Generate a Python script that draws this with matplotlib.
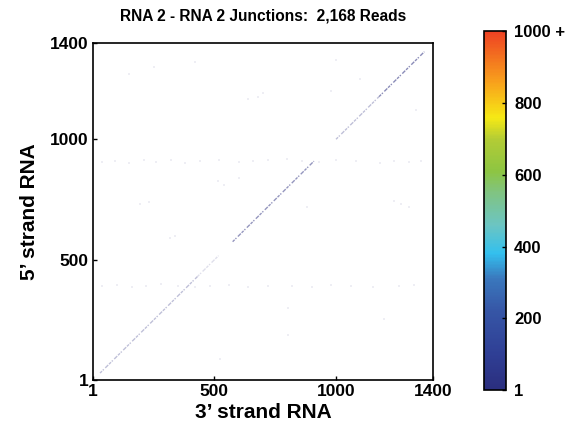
import numpy as np
import matplotlib
matplotlib.use('Agg')
import matplotlib.pyplot as plt
from matplotlib.colors import LinearSegmentedColormap, Normalize
import matplotlib.cm as cm

plt.rcParams['font.family'] = ['Liberation Sans', 'DejaVu Sans']
plt.rcParams['font.weight'] = 'bold'

# junction read map, RNA 2 vs RNA 2 (positions in nt)
# diagonal runs: start, end, relative strength
diag_start = [30, 430, 575, 1000, 1177]
diag_end = [430, 517, 909, 1177, 1363]
diag_alpha = [0.30, 0.15, 0.50, 0.30, 0.55]

# faint scattered junctions (3' position, 5' position)
sc_x = [40, 90, 150, 210, 260, 320, 380, 440, 520, 600, 660, 720, 800, 860,
        930, 1000, 1080, 1180, 1240, 1300, 1350,
        40, 100, 160, 220, 280, 350, 420, 480, 560, 640, 720, 820, 900, 980,
        1060, 1150, 1260, 1320,
        678, 700, 640, 513, 540, 600, 195, 230, 319, 340, 1268, 1300, 1240,
        802, 1198, 802, 525, 150, 250, 1100, 1000, 980, 420, 1330, 880]
sc_y = [905, 910, 900, 915, 905, 912, 900, 908, 915, 905, 910, 915, 920, 910,
        905, 912, 908, 900, 910, 905, 908,
        390, 395, 388, 392, 398, 390, 385, 392, 395, 388, 390, 392, 385, 395,
        390, 388, 392, 395,
        1175, 1190, 1165, 828, 810, 840, 732, 740, 590, 600, 732, 720, 745,
        298, 256, 189, 89, 1270, 1300, 1250, 1330, 1200, 1320, 1120, 720]

cb_ticks = [1, 200, 400, 600, 800, 1000]
cb_labels = ['1', '200', '400', '600', '800', '1000 +']

cmap = LinearSegmentedColormap.from_list('reads', [
    (0.00, '#2b2e7e'), (0.10, '#2f3f95'), (0.22, '#3656a6'), (0.31, '#3a78bd'),
    (0.38, '#33c0ee'), (0.46, '#6cc5c2'), (0.55, '#80c482'), (0.61, '#8dc542'),
    (0.70, '#b3cc35'), (0.76, '#f6e915'), (0.86, '#f8a01c'), (1.00, '#ee4223')])

fig = plt.figure(figsize=(5.74, 4.28), dpi=100)
ax = fig.add_axes([0.162, 0.112, 0.593, 0.788])

base = cmap(0.0)
for s, e, a in zip(diag_start, diag_end, diag_alpha):
    ax.plot([s, e], [s, e], color=base, alpha=a, lw=1.0,
            dashes=(2, 0.8, 1, 1.5, 3, 0.8), solid_capstyle='butt')
ax.scatter(sc_x, sc_y, s=4, marker='s', color=base, alpha=0.08, linewidths=0)

ax.set_xlim(1, 1400)
ax.set_ylim(1, 1400)
ax.set_xticks([1, 500, 1000, 1400])
ax.set_yticks([1, 500, 1000, 1400])
ax.tick_params(direction='in', length=3, width=1, labelsize=12.5, pad=3)
for sp in ax.spines.values():
    sp.set_linewidth(1.2)
ax.set_xlabel("3\u2019 strand RNA", fontsize=15, fontweight='bold', labelpad=3)
ax.set_ylabel("5\u2019 strand RNA", fontsize=15, fontweight='bold', labelpad=8)
ax.set_title("RNA 2 - RNA 2 Junctions:  2,168 Reads", fontsize=11.2,
             fontweight='bold', pad=16)

cax = fig.add_axes([0.843, 0.089, 0.038, 0.838])
sm = cm.ScalarMappable(norm=Normalize(1, 1000), cmap=cmap)
cb = fig.colorbar(sm, cax=cax, ticks=cb_ticks)
cb.ax.set_yticklabels(cb_labels)
cb.ax.tick_params(labelsize=12, length=3, width=1, direction='in', pad=6)
cb.outline.set_linewidth(1.2)

fig.savefig('out.png', dpi=100)
